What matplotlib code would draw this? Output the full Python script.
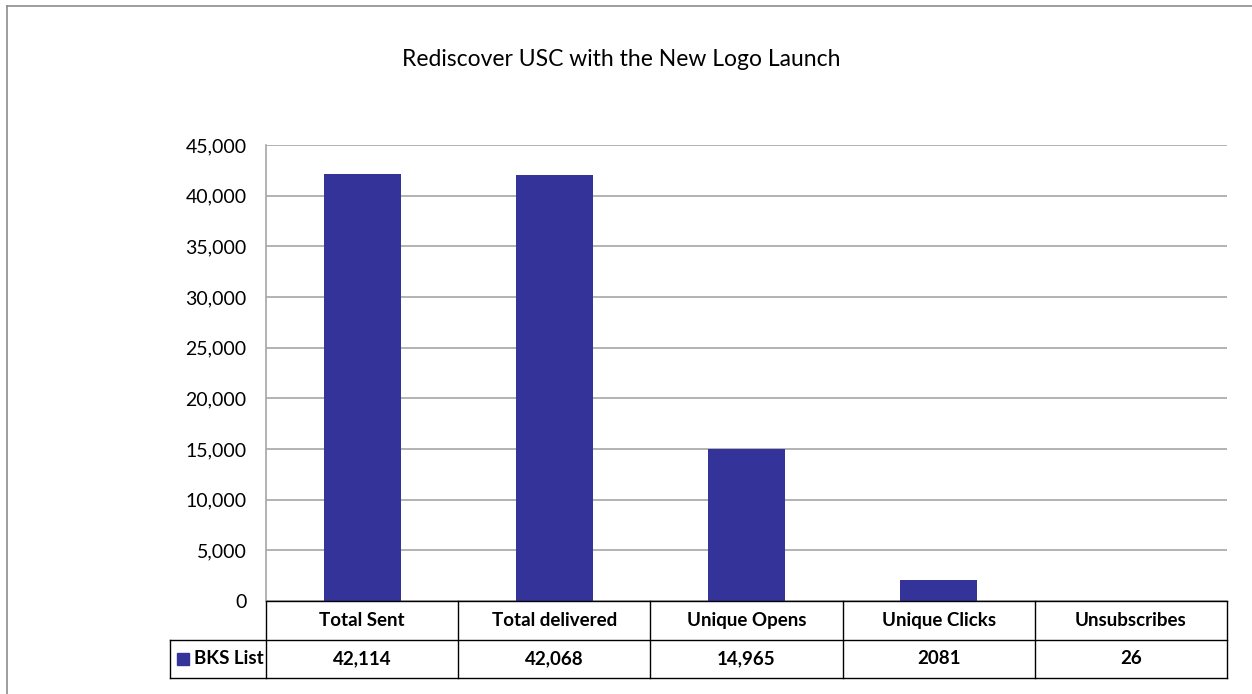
import matplotlib
matplotlib.use("Agg")
import matplotlib.pyplot as plt
from matplotlib.patches import Rectangle
from matplotlib.lines import Line2D
import matplotlib.transforms as mtransforms

categories = ["Total Sent", "Total delivered", "Unique Opens", "Unique Clicks", "Unsubscribes"]
values = [42114, 42068, 14965, 2081, 26]
value_labels = ["42,114", "42,068", "14,965", "2081", "26"]
series_name = "BKS List"
title = "Rediscover USC with the New Logo Launch"
yticks = [0, 5000, 10000, 15000, 20000, 25000, 30000, 35000, 40000, 45000]

BAR_COLOR = "#333399"
GRID = "#a6a6a6"
FONT = ["Lato", "DejaVu Sans"]
plt.rcParams["font.family"] = FONT

W, H = 1252, 694
fig = plt.figure(figsize=(W / 100, H / 100), dpi=100)

# outer chart border (left and top visible)
fig.add_artist(Line2D([7 / W, 7 / W], [0, 1 - 6 / H], color="#8c8c8c", lw=1.2, transform=fig.transFigure))
fig.add_artist(Line2D([7 / W, 1], [1 - 6 / H, 1 - 6 / H], color="#8c8c8c", lw=1.2, transform=fig.transFigure))

left, right, top, bottom = 266, 1227, 145, 601
ax = fig.add_axes([left / W, 1 - bottom / H, (right - left) / W, (bottom - top) / H])

n = len(categories)
x = list(range(n))
ax.bar(x, values, width=0.4, color=BAR_COLOR, zorder=3)
ax.set_xlim(-0.5, n - 0.5)
ax.set_ylim(0, 45000)
ax.set_yticks(yticks)
ax.set_yticklabels([f"{v:,}" for v in yticks], fontsize=14)
ax.tick_params(axis="y", length=0, pad=14)
ax.set_xticks([])
ax.grid(axis="y", color=GRID, lw=1.2, zorder=0)
for s in ["top", "right", "bottom"]:
    ax.spines[s].set_visible(False)
ax.spines["left"].set_color(GRID)
ax.spines["left"].set_linewidth(1.2)

fig.text(621 / W, 1 - 60 / H, title, fontsize=16.5, ha="center", va="center")

# data table below axes
trans = mtransforms.blended_transform_factory(ax.transData, ax.transAxes)
ph = bottom - top
row_h = 38.5 / ph
r1 = -row_h
r2 = -2 * row_h
legend_left = -0.5 - (left - 170) / ((right - left) / n)

lc = "black"
lw = 1.0
ax.add_line(Line2D([-0.5, n - 0.5], [0, 0], color=lc, lw=lw, transform=trans, clip_on=False, zorder=5))
ax.add_line(Line2D([legend_left, n - 0.5], [r1, r1], color=lc, lw=lw, transform=trans, clip_on=False))
ax.add_line(Line2D([legend_left, n - 0.5], [r2, r2], color=lc, lw=lw, transform=trans, clip_on=False))
for i in range(n + 1):
    ax.add_line(Line2D([i - 0.5, i - 0.5], [0, r2], color=lc, lw=lw, transform=trans, clip_on=False))
ax.add_line(Line2D([legend_left, legend_left], [r1, r2], color=lc, lw=lw, transform=trans, clip_on=False))

for i, (c, lab) in enumerate(zip(categories, value_labels)):
    ax.text(i, r1 / 2, c, transform=trans, ha="center", va="center", fontsize=13.5, fontweight="bold")
    ax.text(i, (r1 + r2) / 2, lab, transform=trans, ha="center", va="center", fontsize=13.5, fontweight="bold")

cw = (right - left) / n
key_x = legend_left + 7 / cw
ax.add_patch(Rectangle((key_x, (r1 + r2) / 2 - 6 / ph), 12 / cw, 12 / ph, transform=trans,
                       color=BAR_COLOR, clip_on=False))
ax.text(key_x + 17 / cw, (r1 + r2) / 2, series_name, transform=trans, ha="left", va="center",
        fontsize=13.5, fontweight="bold")

fig.savefig("out.png", dpi=100)
